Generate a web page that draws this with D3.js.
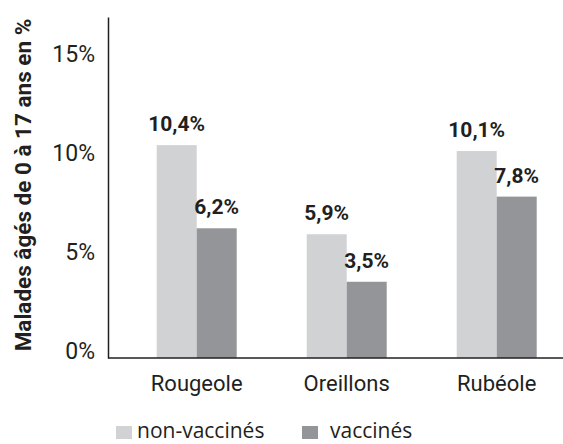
<!DOCTYPE html>
<html>
<head>
<meta charset="utf-8">
<script src="https://cdn.jsdelivr.net/npm/d3@7"></script>
<style>
  body { margin: 0; background: #fff; }
  svg { display: block; }
</style>
</head>
<body>
<svg id="chart" width="563" height="444"></svg>
<script>

// data
let categories = ["Rougeole", "Oreillons", "Rubéole"];
let series = ["non-vaccinés", "vaccinés"];
let non_vaccines = [10.4, 5.9, 10.1];
let vaccines = [6.2, 3.5, 7.8];
let value_labels_nv = ["10,4%", "5,9%", "10,1%"];
let value_labels_v = ["6,2%", "3,5%", "7,8%"];
let y_ticks = [0, 5, 10, 15];
let y_tick_labels = ["0%", "5%", "10%", "15%"];

let colors = ["#d1d2d4", "#939598"];
let ink = "#231f20";

function load_bar_chart(svg_name){

    // General Variables
    let chart = d3.select(svg_name);
    let chart_width  = +chart.attr("width");
    let chart_height = +chart.attr("height");
    let axis_x = 108;

    // group scale
    let x0 = d3.scaleBand()
        .domain(categories)
        .range([121.7, 571.7])
        .paddingInner(0.4667)
        .paddingOuter(0.2333);

    // bars inside a group
    let x1 = d3.scaleBand()
        .domain(series)
        .range([0, x0.bandwidth()]);

    // y position scale (axis line sits a bit below 0)
    let y = d3.scaleLinear()
        .domain([-0.35, 16.87])
        .range([358, 17]);

    let rows = categories.map(function(c, i){
        return [
            { cat: c, s: series[0], v: non_vaccines[i], label: value_labels_nv[i] },
            { cat: c, s: series[1], v: vaccines[i], label: value_labels_v[i] }
        ];
    });

    let color = d3.scaleOrdinal().domain(series).range(colors);

    let groups = chart.selectAll("g.group")
        .data(rows).enter()
        .append("g")
            .attr("class", "group")
            .attr("transform", function(d){ return "translate(" + x0(d[0].cat) + ",0)"; });

    groups.selectAll("rect")
        .data(function(d){ return d; }).enter()
        .append("rect")
            .attr("x", function(d){ return x1(d.s); })
            .attr("y", function(d){ return y(d.v); })
            .attr("width", x1.bandwidth())
            .attr("height", function(d){ return y.range()[0] - y(d.v); })
            .attr("fill", function(d){ return color(d.s); });

    groups.selectAll("text")
        .data(function(d){ return d; }).enter()
        .append("text")
            .attr("x", function(d){ return x1(d.s) + x1.bandwidth() / 2; })
            .attr("y", function(d){ return y(d.v) - 14; })
            .attr("text-anchor", "middle")
            .style("font-family", "Roboto, sans-serif")
            .style("font-weight", "bold")
            .style("font-size", "21px")
            .style("fill", ink)
            .text(function(d){ return d.label; });

    // y axis
    let yAxis = chart.append("g")
        .attr("transform", "translate(" + axis_x + ",0)")
        .call(d3.axisLeft(y)
            .tickValues(y_ticks)
            .tickSize(0)
            .tickSizeOuter(0)
            .tickPadding(13)
            .tickFormat(function(d, i){ return y_tick_labels[i]; }));
    yAxis.select(".domain").attr("stroke", ink).attr("stroke-width", 1.5);
    yAxis.selectAll("text")
        .style("font-family", "Roboto, sans-serif")
        .style("font-size", "23px")
        .style("fill", ink);

    // x axis
    let xAxis = chart.append("g")
        .attr("transform", "translate(0," + y.range()[0] + ")")
        .call(d3.axisBottom(x0).tickSize(0).tickPadding(17));
    xAxis.select(".domain").remove();
    xAxis.selectAll("text")
        .style("font-family", "Roboto, sans-serif")
        .style("font-size", "22px")
        .style("fill", ink);
    chart.append("line")
        .attr("x1", axis_x)
        .attr("x2", chart_width)
        .attr("y1", y.range()[0])
        .attr("y2", y.range()[0])
        .attr("stroke", ink)
        .attr("stroke-width", 1.5);

    // y title
    chart.append("text")
        .attr("transform", "translate(31," + 185 + ")rotate(-90)")
        .attr("text-anchor", "middle")
        .style("font-family", "Roboto, sans-serif")
        .style("font-weight", "bold")
        .style("font-size", "22.5px")
        .style("fill", ink)
        .text("Malades âgés de 0 à 17 ans en %");

    // legend
    let legend_x = [116, 302];
    let legend = chart.selectAll("g.legend")
        .data(series).enter()
        .append("g")
            .attr("class", "legend")
            .attr("transform", function(d, i){ return "translate(" + legend_x[i] + ",426)"; });
    legend.append("rect")
        .attr("width", 16)
        .attr("height", 13)
        .attr("fill", function(d){ return color(d); });
    legend.append("text")
        .attr("x", function(d, i){ return i == 0 ? 21 : 28; })
        .attr("y", 12)
        .style("font-family", "'Open Sans', sans-serif")
        .style("font-size", "21px")
        .style("fill", ink)
        .text(function(d){ return d; });

    return { chart: chart, x0: x0, x1: x1, y: y };
}

load_bar_chart("#chart");
</script>
</body>
</html>
